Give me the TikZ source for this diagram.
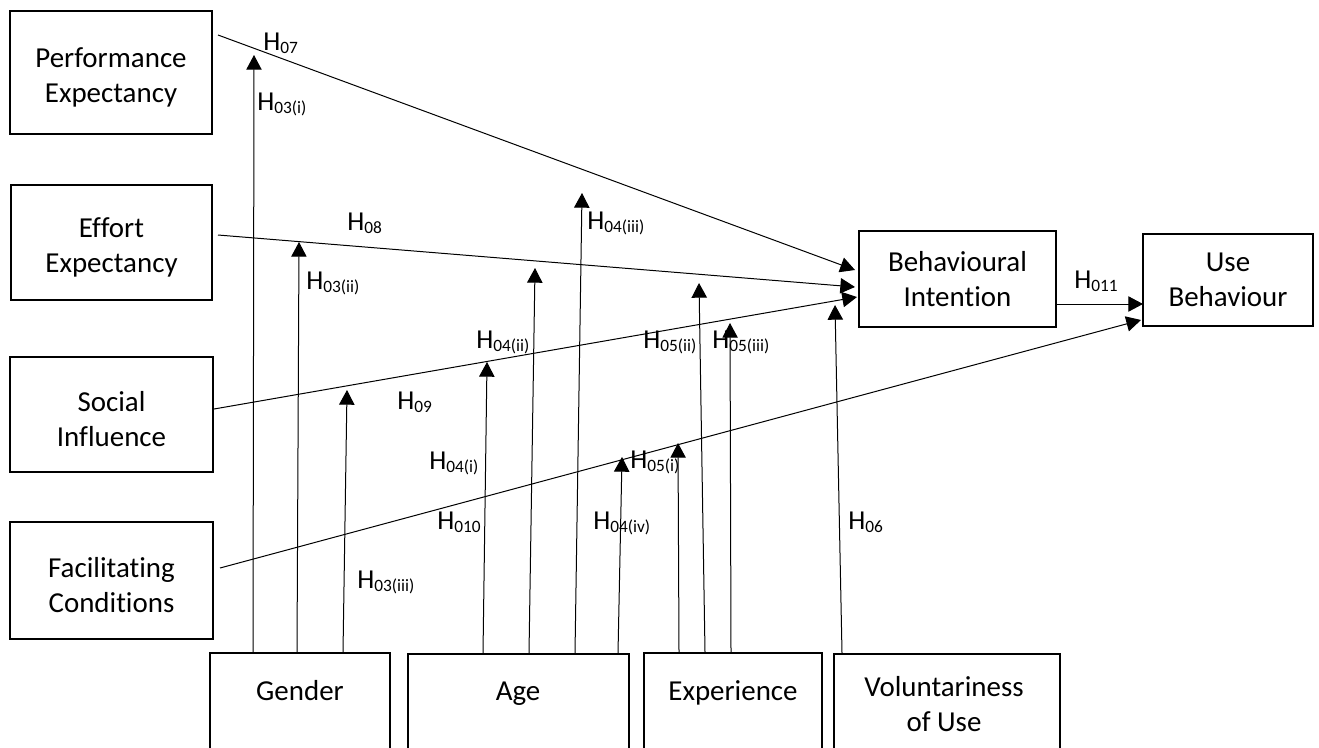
\documentclass[tikz,border=0pt]{standalone}
\usepackage{fontspec}
\setmainfont{Carlito}[Ligatures={NoCommon}]
\usetikzlibrary{arrows.meta,calc}
\newcommand{\boxfont}{\fontsize{21.7}{26.25}\selectfont}
\newcommand{\hypo}[1]{\fontsize{20.5}{24}\selectfont H\raisebox{-2.5pt}{\fontsize{13}{15}\selectfont #1}}
\newcommand{\topstrut}{\rule{0pt}{22pt}}
\tikzset{
  blk/.style={draw, line width=1.5pt, align=center, font=\boxfont, inner sep=0pt},
  btxt/.style={align=center, font=\boxfont, inner sep=0pt, anchor=base},
  arr/.style={line width=0.75pt, -{Triangle[length=11pt,width=11.5pt]}},
  lbl/.style={anchor=base west, inner sep=0pt},
}
\begin{document}
\begin{tikzpicture}[x=0.75pt,y=-0.75pt]
\useasboundingbox (0,0) rectangle (1319,747);
\fill[white] (0,0) rectangle (1319,747);

% left construct boxes
\node[blk, minimum width=151.5pt, minimum height=92.25pt] (pe) at (111,72.5) {\topstrut Performance\\Expectancy};
\node[blk, minimum width=150.75pt, minimum height=86.25pt] (ee) at (111.5,242.5) {\topstrut Effort\\Expectancy};
\node[blk, minimum width=152.25pt, minimum height=86.25pt] (si) at (111.5,414.5) {\topstrut Social\\Influence};
\node[blk, minimum width=152.25pt, minimum height=87.75pt] (fc) at (111.5,580.5) {\topstrut Facilitating\\Conditions};

% right boxes
\node[blk, minimum width=147.75pt, minimum height=72pt] (bi) at (957.5,279) {Behavioural\\Intention};
\node[blk, minimum width=127.5pt, minimum height=69pt] (ub) at (1228,280) {Use\\Behaviour};

% bottom moderator boxes (cut by the page edge)
\node[blk, anchor=north, minimum width=135pt, minimum height=97.5pt] (gender) at (300,652) {};
\node[blk, anchor=north, minimum width=165.75pt, minimum height=97.5pt] (age) at (518.5,653) {};
\node[blk, anchor=north, minimum width=133.5pt, minimum height=97.5pt] (exp) at (733,652) {};
\node[blk, anchor=north, minimum width=169.5pt, minimum height=97.5pt] (vol) at (947,653) {};
\node[btxt] (tgender) at (300,700) {Gender};
\node[btxt] (tage) at (518,700) {Age};
\node[btxt] (texp) at (733,700) {Experience};
\node[btxt] (tvol) at (944,731) {Voluntariness\\of Use};

% main paths
\draw[arr] ($(pe.north east)+(5,25)$) -- ($(bi.west)+(-3,-9)$);
\draw[arr] ($(ee.east)+(5,-7.5)$) -- ($(bi.west)+(-3,8)$);
\draw[arr] ($(si.east)+(0,-5.5)$) -- ($(bi.west)+(-1,18)$);
\draw[arr] ($(fc.east)+(6,-12.5)$) -- ($(ub.west)+(-1,40)$);
\draw[arr] ($(bi.east)+(0,25)$) -- ($(ub.west)+(1,24)$);

% moderator arrow tips
\coordinate (g1t) at (254,55);
\coordinate (g2t) at (299,242);
\coordinate (g3t) at (347,390);
\coordinate (a1t) at (487,362);
\coordinate (a2t) at (535,268);
\coordinate (a3t) at (582,193);
\coordinate (a4t) at (622,457);
\coordinate (e1t) at (678,443);
\coordinate (e2t) at (699,283);
\coordinate (e3t) at (730,323);
\coordinate (v1t) at (835,305);

\draw[arr] ($(gender.north west)+(44,0)$) -- (g1t);
\draw[arr] ($(gender.north west)+(88,0)$) -- (g2t);
\draw[arr] ($(gender.north west)+(134,0)$) -- (g3t);
\draw[arr] ($(age.north west)+(76,0)$) -- (a1t);
\draw[arr] ($(age.north west)+(122,0)$) -- (a2t);
\draw[arr] ($(age.north west)+(168,0)$) -- (a3t);
\draw[arr] ($(age.north west)+(211,0)$) -- (a4t);
\draw[arr] ($(exp.north west)+(36,0)$) -- (e1t);
\draw[arr] ($(exp.north west)+(62,0)$) -- (e2t);
\draw[arr] ($(exp.north west)+(88,0)$) -- (e3t);
\draw[arr] ($(vol.north west)+(9,0)$) -- (v1t);

% hypothesis labels
\node[lbl] (h07) at (263,50) {\hypo{07}};
\node[lbl] (h03i) at (257,110) {\hypo{03(i)}};
\node[lbl] (h08) at (347,230) {\hypo{08}};
\node[lbl] (h03ii) at (306,289) {\hypo{03(ii)}};
\node[lbl] (h09) at (397,409) {\hypo{09}};
\node[lbl] (h04i) at (429,469) {\hypo{04(i)}};
\node[lbl] (h010) at (437,529) {\hypo{010}};
\node[lbl] (h04iv) at (593,529) {\hypo{04(iv)}};
\node[lbl] (h05i) at (630,468) {\hypo{05(i)}};
\node[lbl] (h06) at (848,529) {\hypo{06}};
\node[lbl] (h03iii) at (357,588) {\hypo{03(iii)}};
\node[lbl] (h04ii) at (476,348) {\hypo{04(ii)}};
\node[lbl] (h04iii) at (587,229) {\hypo{04(iii)}};
\node[lbl] (h05ii) at (643,348) {\hypo{05(ii)}};
\node[lbl] (h05iii) at (712,348) {\hypo{05(iii)}};
\node[lbl] (h011) at (1074,288) {\hypo{011}};
\end{tikzpicture}
\end{document}
